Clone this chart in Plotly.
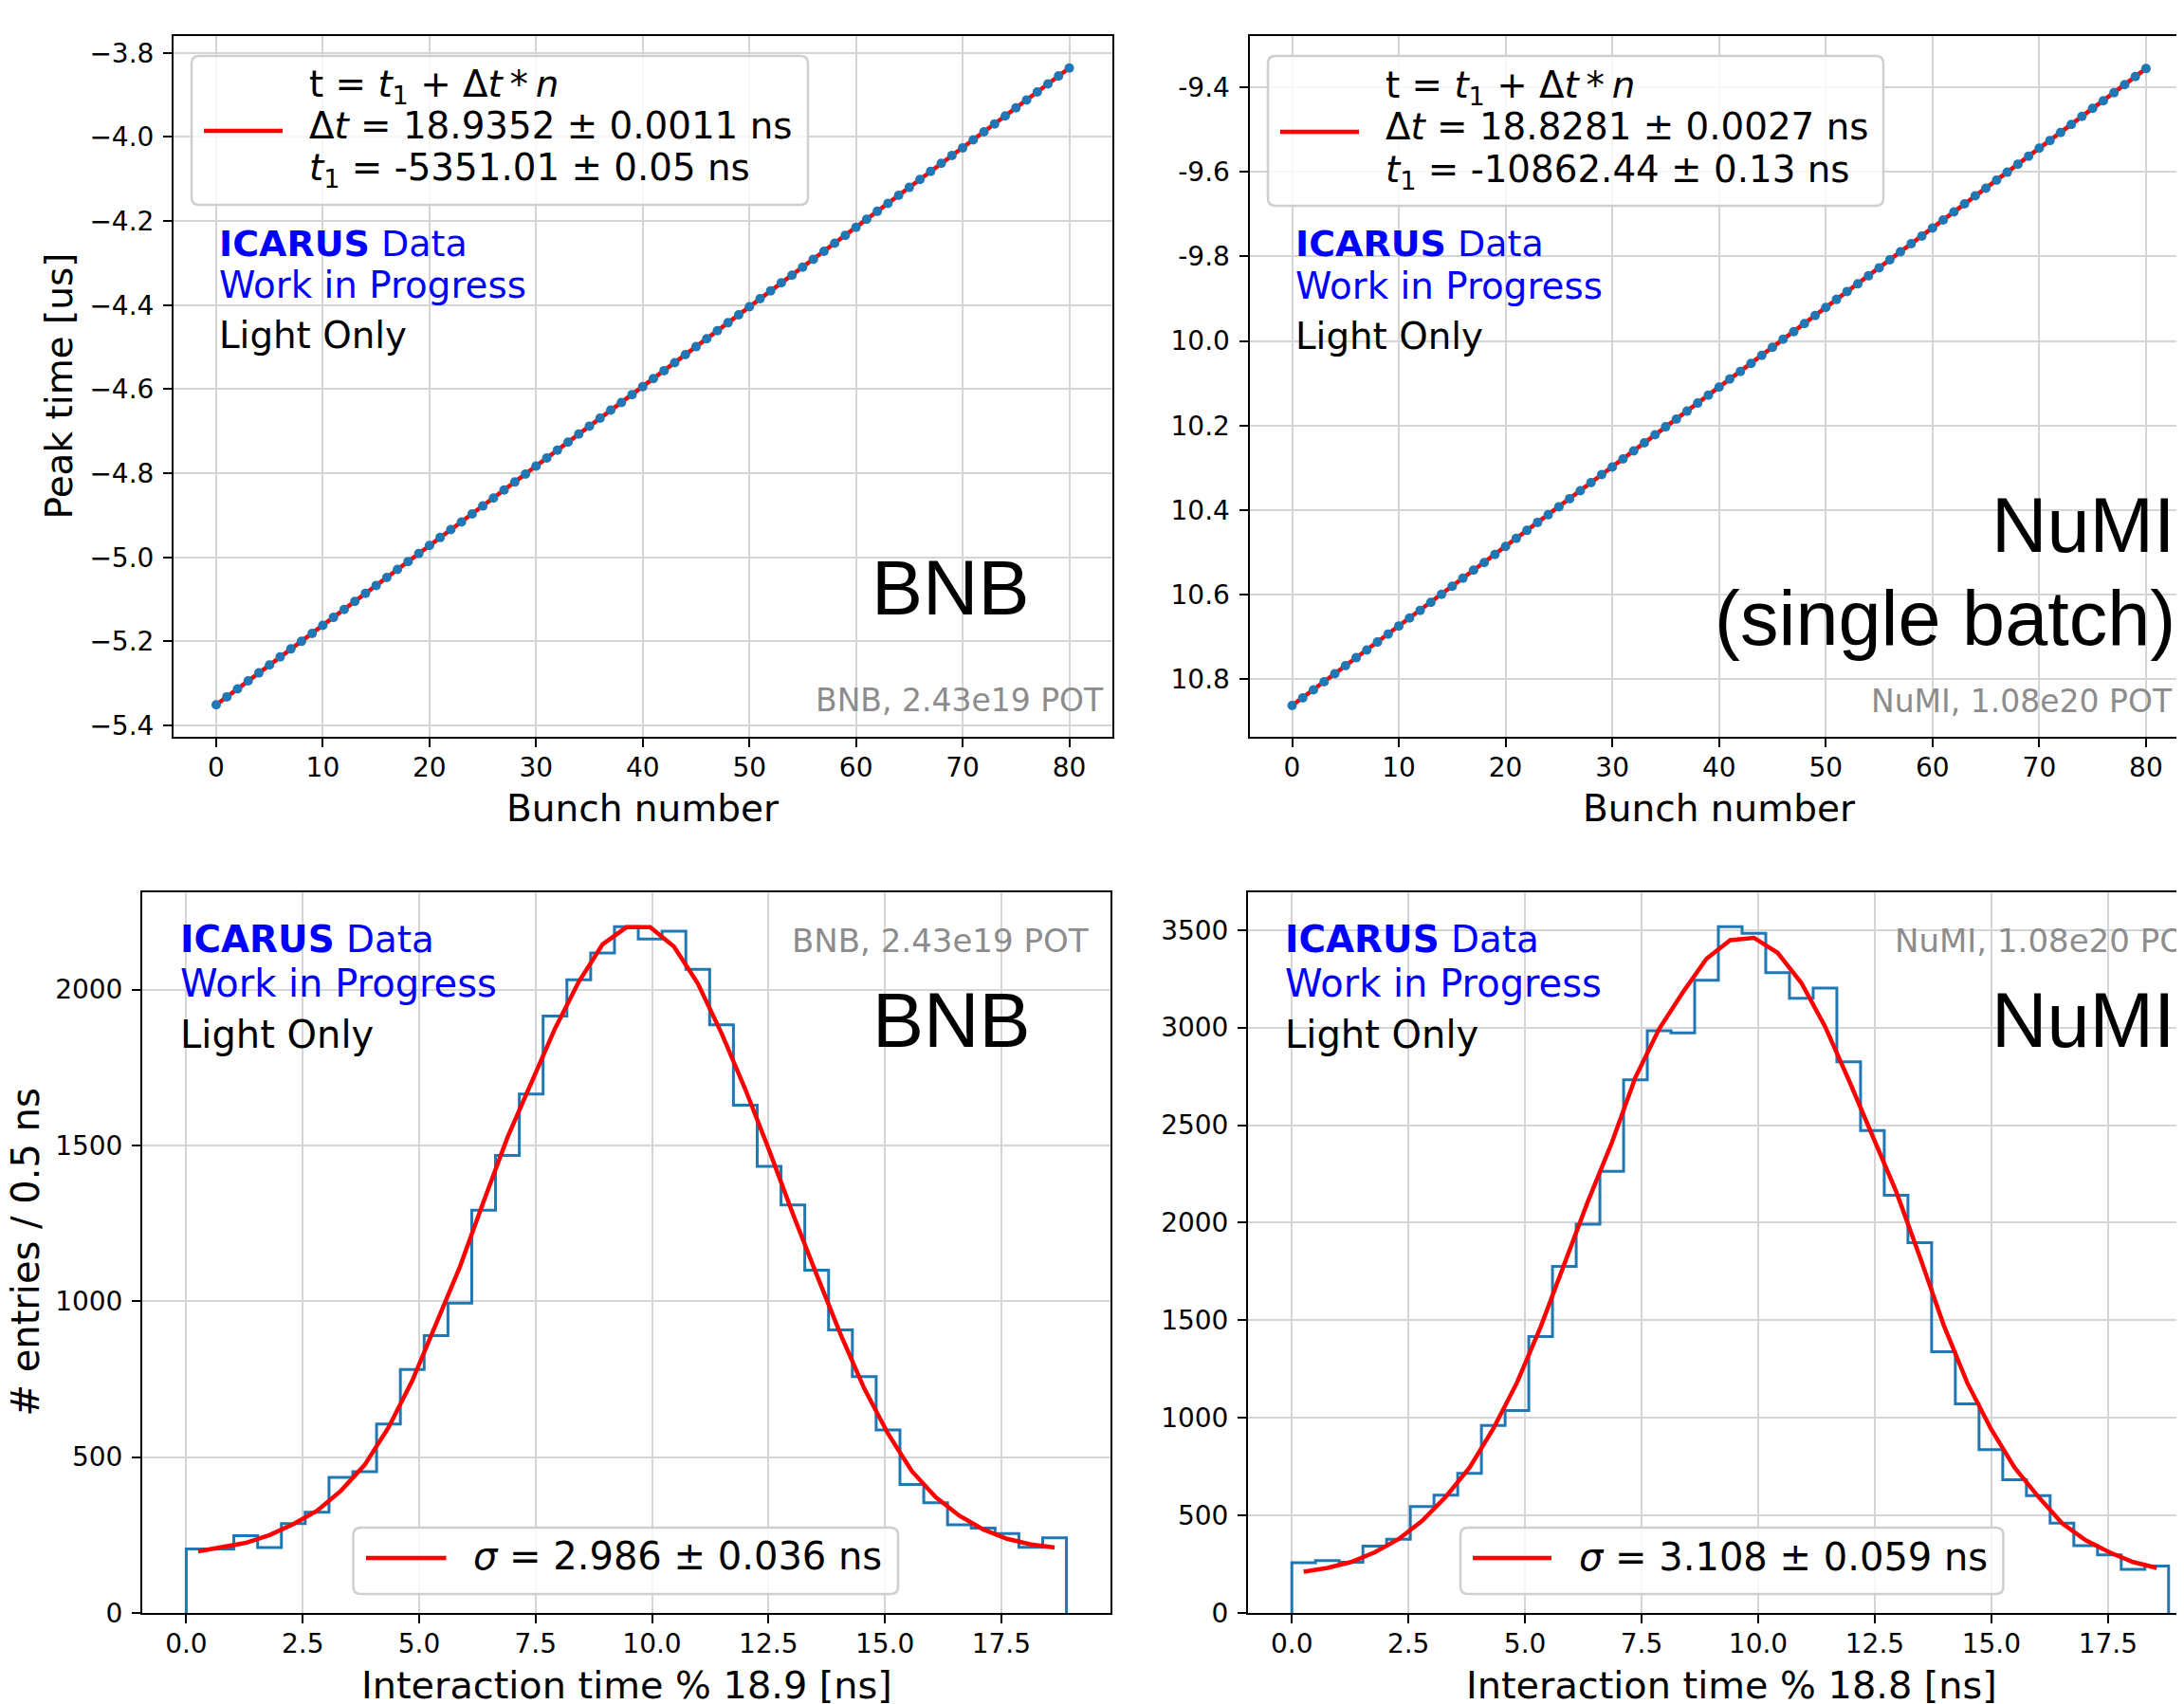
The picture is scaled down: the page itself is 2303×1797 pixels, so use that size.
import numpy as np
import plotly.graph_objects as go

# Target page size; the HTML body has an 8px default margin, so the figure is
# drawn 8px smaller and all page coordinates are shifted by that offset.
PAGE_W, PAGE_H = 2303, 1797
OFF = 8
W, H = PAGE_W - OFF, PAGE_H - OFF

# ---------------- data ----------------
bunch_number = list(range(81))
bnb_peak_time_us = [
    -5.351, -5.332, -5.313, -5.294, -5.275, -5.256, -5.237, -5.218, -5.200, -5.181,
    -5.162, -5.143, -5.124, -5.105, -5.086, -5.067, -5.048, -5.029, -5.010, -4.991,
    -4.972, -4.953, -4.934, -4.916, -4.897, -4.878, -4.859, -4.840, -4.821, -4.802,
    -4.783, -4.764, -4.745, -4.726, -4.707, -4.688, -4.669, -4.650, -4.632, -4.613,
    -4.594, -4.575, -4.556, -4.537, -4.518, -4.499, -4.480, -4.461, -4.442, -4.423,
    -4.404, -4.385, -4.366, -4.347, -4.329, -4.310, -4.291, -4.272, -4.253, -4.234,
    -4.215, -4.196, -4.177, -4.158, -4.139, -4.120, -4.101, -4.082, -4.063, -4.044,
    -4.026, -4.007, -3.988, -3.969, -3.950, -3.931, -3.912, -3.893, -3.874, -3.855,
    -3.836]
numi_peak_time_us = [
    -10.862, -10.844, -10.825, -10.806, -10.787, -10.768, -10.749, -10.731, -10.712, -10.693,
    -10.674, -10.655, -10.637, -10.618, -10.599, -10.580, -10.561, -10.542, -10.524, -10.505,
    -10.486, -10.467, -10.448, -10.429, -10.411, -10.392, -10.373, -10.354, -10.335, -10.316,
    -10.298, -10.279, -10.260, -10.241, -10.222, -10.203, -10.185, -10.166, -10.147, -10.128,
    -10.109, -10.090, -10.072, -10.053, -10.034, -10.015, -9.996, -9.978, -9.959, -9.940,
    -9.921, -9.902, -9.883, -9.865, -9.846, -9.827, -9.808, -9.789, -9.770, -9.752,
    -9.733, -9.714, -9.695, -9.676, -9.657, -9.639, -9.620, -9.601, -9.582, -9.563,
    -9.544, -9.526, -9.507, -9.488, -9.469, -9.450, -9.432, -9.413, -9.394, -9.375,
    -9.356]
bnb_fit_n = [0, 80]
bnb_fit_t = [-5.351, -3.836]
numi_fit_n = [0, 80]
numi_fit_t = [-10.862, -9.356]

bnb_period = 18.9
numi_period = 18.8
n_bins = 37
bnb_counts = [205, 205, 248, 210, 287, 323, 435, 453, 606, 781, 890, 994, 1292, 1468,
              1665, 1915, 2031, 2117, 2202, 2162, 2187, 2065, 1887, 1629, 1433, 1309,
              1100, 908, 758, 587, 412, 354, 283, 272, 255, 211, 241]
bnb_fit_counts = [198, 210, 225, 250, 285, 328, 392, 475, 595, 745, 925, 1110, 1320,
                  1525, 1700, 1875, 2025, 2145, 2200, 2200, 2138, 2020, 1860, 1680,
                  1485, 1280, 1085, 895, 720, 575, 455, 372, 312, 268, 238, 220, 210]
numi_counts = [258, 268, 260, 343, 378, 546, 604, 715, 961, 1038, 1416, 1776, 1992,
               2263, 2732, 2983, 2973, 3242, 3517, 3483, 3281, 3150, 3202, 2824, 2472,
               2141, 1898, 1339, 1071, 837, 683, 601, 460, 345, 298, 224, 241]
numi_fit_counts = [211, 231, 261, 311, 378, 472, 596, 745, 944, 1180, 1466, 1788, 2111,
                   2409, 2745, 2993, 3180, 3353, 3448, 3460, 3383, 3229, 3006, 2732,
                   2447, 2161, 1826, 1478, 1180, 944, 745, 596, 460, 373, 311, 261, 231]

top_xticks = [0, 10, 20, 30, 40, 50, 60, 70, 80]
tl_yticks = [-5.4, -5.2, -5.0, -4.8, -4.6, -4.4, -4.2, -4.0, -3.8]
tl_yticktext = ["\u22125.4", "\u22125.2", "\u22125.0", "\u22124.8", "\u22124.6",
                "\u22124.4", "\u22124.2", "\u22124.0", "\u22123.8"]
tr_yticks = [-10.8, -10.6, -10.4, -10.2, -10.0, -9.8, -9.6, -9.4]
tr_yticktext = ["10.8", "10.6", "10.4", "10.2", "10.0", "-9.8", "-9.6", "-9.4"]
bot_xticks = [0, 2.5, 5, 7.5, 10, 12.5, 15, 17.5]
bot_xticktext = ["0.0", "2.5", "5.0", "7.5", "10.0", "12.5", "15.0", "17.5"]
bl_yticks = [0, 500, 1000, 1500, 2000]
br_yticks = [0, 500, 1000, 1500, 2000, 2500, 3000, 3500]

C0 = "#1f77b4"
RED = "#ff0000"
FONT = "DejaVu Sans"
BIG = "Liberation Sans"
GRAY = "#8c8c8c"


def step_xy(edges, counts):
    xs = [edges[0]] + list(edges[:-1]) + [edges[-1]]
    ys = [0] + list(counts) + [0]
    return xs, ys


fig = go.Figure()

# top-left
fig.add_trace(go.Scatter(x=bnb_fit_n, y=bnb_fit_t, mode="lines",
                         line=dict(color=RED, width=4.5), xaxis="x", yaxis="y"))
fig.add_trace(go.Scatter(x=bunch_number, y=bnb_peak_time_us, mode="markers",
                         marker=dict(color=C0, size=10), xaxis="x", yaxis="y"))
# top-right
fig.add_trace(go.Scatter(x=numi_fit_n, y=numi_fit_t, mode="lines",
                         line=dict(color=RED, width=4.5), xaxis="x2", yaxis="y2"))
fig.add_trace(go.Scatter(x=bunch_number, y=numi_peak_time_us, mode="markers",
                         marker=dict(color=C0, size=10), xaxis="x2", yaxis="y2"))
# bottom-left
e = np.linspace(0, bnb_period, n_bins + 1)
c = 0.5 * (e[:-1] + e[1:])
sx, sy = step_xy(e, bnb_counts)
fig.add_trace(go.Scatter(x=sx, y=sy, mode="lines", line=dict(color=C0, width=3, shape="hv"),
                         xaxis="x3", yaxis="y3"))
fig.add_trace(go.Scatter(x=c, y=bnb_fit_counts, mode="lines", line=dict(color=RED, width=4.5),
                         xaxis="x3", yaxis="y3"))
# bottom-right
e = np.linspace(0, numi_period, n_bins + 1)
c = 0.5 * (e[:-1] + e[1:])
sx, sy = step_xy(e, numi_counts)
fig.add_trace(go.Scatter(x=sx, y=sy, mode="lines", line=dict(color=C0, width=3, shape="hv"),
                         xaxis="x4", yaxis="y4"))
fig.add_trace(go.Scatter(x=c, y=numi_fit_counts, mode="lines", line=dict(color=RED, width=4.5),
                         xaxis="x4", yaxis="y4"))

axis_common = dict(showline=True, linecolor="black", linewidth=2, ticks="outside",
                   ticklen=9, tickwidth=2, tickcolor="black", showgrid=True,
                   gridcolor="#d5d5d5", gridwidth=2, zeroline=False, automargin=False,
                   tickfont=dict(family=FONT, size=28, color="black"))


def fx(x):
    return (x - OFF) / W


def fy(y):
    return 1 - (y - OFF) / H


top_dom = [fy(777), fy(38)]
bot_dom = [fy(1701), fy(941)]
XS = -3
YS = 4

fig.update_layout(
    width=W, height=H, margin=dict(l=0, r=0, t=0, b=0, autoexpand=False),
    paper_bgcolor="white", plot_bgcolor="white", showlegend=False,
    xaxis=dict(axis_common, domain=[fx(183), fx(1172.5)], anchor="y", range=[-4, 84],
               tickvals=top_xticks, mirror=True, ticklabelstandoff=XS),
    yaxis=dict(axis_common, domain=top_dom, anchor="x", range=[-5.427, -3.760],
               tickvals=tl_yticks, ticktext=tl_yticktext, mirror=True, ticklabelstandoff=YS),
    xaxis2=dict(axis_common, domain=[fx(1317.5), 1], anchor="y2", range=[-4, 83.56],
                tickvals=top_xticks, mirror=True, ticklabelstandoff=XS),
    yaxis2=dict(axis_common, domain=top_dom, anchor="x2", range=[-10.936, -9.279],
                tickvals=tr_yticks, ticktext=tr_yticktext, mirror=False, ticklabelstandoff=YS),
    xaxis3=dict(axis_common, domain=[fx(150), fx(1171)], anchor="y3", range=[-0.945, 19.845],
                tickvals=bot_xticks, ticktext=bot_xticktext, mirror=True, ticklabelstandoff=XS),
    yaxis3=dict(axis_common, domain=bot_dom, anchor="x3", range=[0, 2312],
                tickvals=bl_yticks, mirror=True, ticklabelstandoff=YS),
    xaxis4=dict(axis_common, domain=[fx(1316), 1], anchor="y4", range=[-0.94, 19.13],
                tickvals=bot_xticks, ticktext=bot_xticktext, mirror=True, ticklabelstandoff=XS),
    yaxis4=dict(axis_common, domain=bot_dom, anchor="x4", range=[0, 3693],
                tickvals=br_yticks, mirror=False, ticklabelstandoff=YS),
)

annotations = []


def txt(x, y, s, size, color="black", family=FONT, xanchor="left", yanchor="top", angle=0):
    annotations.append(dict(x=fx(x), y=fy(y), xref="paper", yref="paper", text=s,
                            showarrow=False, xanchor=xanchor, yanchor=yanchor,
                            textangle=angle, borderpad=0, borderwidth=0,
                            font=dict(family=family, size=size, color=color)))


def dv(base, size):
    """top of a DejaVu text box whose baseline is at `base`"""
    return base - 0.928 * size


def lib(base, size):
    """top of a Liberation Sans text box whose baseline is at `base`"""
    return base - 0.905 * size


shapes = []


def rrect(x0, y0, x1, y1, r=8):
    p = (f"M {fx(x0 + r)},{fy(y0)} L {fx(x1 - r)},{fy(y0)} Q {fx(x1)},{fy(y0)} {fx(x1)},{fy(y0 + r)} "
         f"L {fx(x1)},{fy(y1 - r)} Q {fx(x1)},{fy(y1)} {fx(x1 - r)},{fy(y1)} "
         f"L {fx(x0 + r)},{fy(y1)} Q {fx(x0)},{fy(y1)} {fx(x0)},{fy(y1 - r)} "
         f"L {fx(x0)},{fy(y0 + r)} Q {fx(x0)},{fy(y0)} {fx(x0 + r)},{fy(y0)} Z")
    shapes.append(dict(type="path", path=p, xref="paper", yref="paper", layer="above",
                       fillcolor="rgba(255,255,255,0.8)", line=dict(color="#cfcfcf", width=2.5)))


def legline(x0, x1, y):
    shapes.append(dict(type="line", x0=fx(x0), x1=fx(x1), y0=fy(y), y1=fy(y), xref="paper",
                       yref="paper", layer="above", line=dict(color=RED, width=4.5)))


def label_block(x, b1, b2, b3, s_icarus, s_text):
    txt(x, dv(b1, s_icarus), "<b>ICARUS</b> Data", s_icarus, color="#0000ff")
    txt(x, dv(b2, s_text), "Work in Progress", s_text, color="#0000ff")
    txt(x, dv(b3, s_text), "Light Only", s_text, color="black")


TS = 38.8   # text size, top panels
BS = 40.0   # text size, bottom panels

# ---- top-left ----
rrect(202, 59, 852, 216)
legline(215, 298, 138)
txt(326, dv(102.3, TS), "t = <i>t</i><sub>1</sub> + \u0394<i>t</i>\u2009*\u2009<i>n</i>", TS)
txt(326, dv(146, TS), "\u0394<i>t</i> = 18.9352 \u00b1 0.0011 ns", TS)
txt(326, dv(190, TS), "<i>t</i><sub>1</sub> = -5351.01 \u00b1 0.05 ns", TS)
label_block(231, 270, 314, 366.7, 38, TS)
txt(1086, lib(648.3, 81), "BNB", 81, family=BIG, xanchor="right")
txt(1164, dv(749.3, 33), "BNB, 2.43e19 POT", 33, color=GRAY, xanchor="right")
txt(677.5, 852, "Bunch number", 39, yanchor="middle", xanchor="center")
txt(62, 407.5, "Peak time [us]", 39, yanchor="middle", xanchor="center", angle=-90)

# ---- top-right ----
rrect(1337, 59, 1986, 217)
legline(1350, 1433, 139)
txt(1461, dv(102.7, TS), "t = <i>t</i><sub>1</sub> + \u0394<i>t</i>\u2009*\u2009<i>n</i>", TS)
txt(1461, dv(147, TS), "\u0394<i>t</i> = 18.8281 \u00b1 0.0027 ns", TS)
txt(1461, dv(191.7, TS), "<i>t</i><sub>1</sub> = -10862.44 \u00b1 0.13 ns", TS)
label_block(1366, 270.7, 315, 368, 38, TS)
txt(2294, lib(582.3, 81), "NuMI", 81, family=BIG, xanchor="right")
txt(2294, lib(680, 81), "(single batch)", 81, family=BIG, xanchor="right")
txt(2291, dv(750.7, 33), "NuMI, 1.08e20 POT", 33, color=GRAY, xanchor="right")
txt(1813, 852, "Bunch number", 39, yanchor="middle", xanchor="center")

# ---- bottom-left ----
label_block(189.5, 1004.2, 1051.6, 1104.7, 38.9, BS)
txt(1148, dv(1004, 34), "BNB, 2.43e19 POT", 34, color=GRAY, xanchor="right")
txt(1087, lib(1104.7, 81), "BNB", 81, family=BIG, xanchor="right")
rrect(372.5, 1611, 947, 1681)
legline(386, 470.5, 1643)
txt(499, dv(1655.5, BS), "<i>\u03c3</i> = 2.986 \u00b1 0.036 ns", BS)
txt(660.5, 1777, "Interaction time % 18.9 [ns]", 39.8, yanchor="middle", xanchor="center")
txt(26.5, 1321, "# entries / 0.5 ns", 40, yanchor="middle", xanchor="center", angle=-90)

# ---- bottom-right ----
label_block(1355, 1004.2, 1051.6, 1104.7, 38.9, BS)
txt(1998, dv(1004, 34), "NuMI, 1.08e20 POT", 34, color=GRAY, xanchor="left")
txt(2100, lib(1104.7, 81), "NuMI", 81, family=BIG, xanchor="left")
rrect(1540, 1611, 2112.5, 1681)
legline(1553, 1636, 1643)
txt(1665, dv(1655.7, BS), "<i>\u03c3</i> = 3.108 \u00b1 0.059 ns", BS)
txt(1826, 1777, "Interaction time % 18.8 [ns]", 39.8, yanchor="middle", xanchor="center")

fig.update_layout(annotations=annotations, shapes=shapes)
fig.write_html("out.html")
